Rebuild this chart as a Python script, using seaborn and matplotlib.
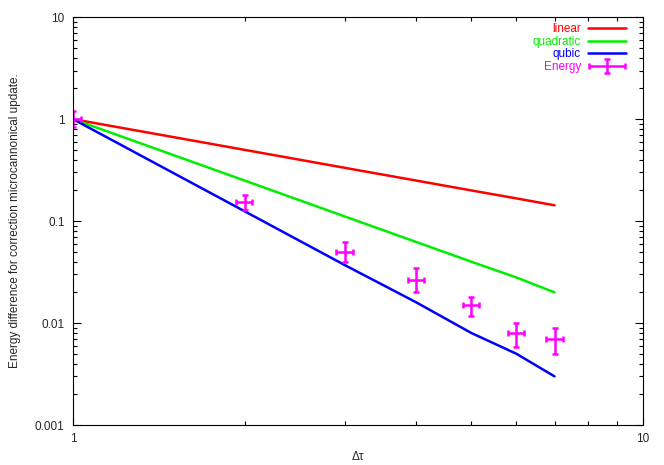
import numpy as np
import pandas as pd
import seaborn as sns
import matplotlib.pyplot as plt
import matplotlib.ticker as ticker
from matplotlib.container import ErrorbarContainer
from matplotlib.legend_handler import HandlerErrorbar

# valores
dtau = [1, 2, 3, 4, 5, 6, 7]
linear = [1.0, 0.5, 0.333, 0.25, 0.2, 0.167, 0.143]
quadratic = [1.0, 0.25, 0.111, 0.0625, 0.04, 0.028, 0.02]
qubic = [1.0, 0.125, 0.037, 0.016, 0.008, 0.005, 0.003]

energy = [1.0, 0.153, 0.050, 0.0264, 0.015, 0.0080, 0.0070]
energy_lo = [0.83, 0.128, 0.040, 0.020, 0.0117, 0.0058, 0.0050]
energy_hi = [1.2, 0.18, 0.062, 0.035, 0.018, 0.010, 0.0090]
dtau_err = [0.033, 0.065, 0.10, 0.13, 0.16, 0.20, 0.23]

CORES = {'linear': '#ff0000', 'quadratic': '#00ee00', 'qubic': '#0000ff'}
MAGENTA = '#ff00ff'

sns.set_style("ticks")
plt.rcParams['font.family'] = ['Liberation Sans', 'DejaVu Sans']

df = pd.DataFrame({
    'dtau': dtau * 3,
    'valor': linear + quadratic + qubic,
    'serie': ['linear'] * 7 + ['quadratic'] * 7 + ['qubic'] * 7,
})

fig = plt.figure(figsize=(6.64, 4.65), dpi=100)
ax = fig.add_axes([0.110, 0.086, 0.858, 0.877])

sns.lineplot(data=df, x='dtau', y='valor', hue='serie', palette=CORES,
             linewidth=1.8, ax=ax, legend=True)

yerr = [np.array(energy) - np.array(energy_lo), np.array(energy_hi) - np.array(energy)]
ax.errorbar(dtau, energy, yerr=yerr, xerr=dtau_err, fmt='none', ecolor=MAGENTA,
            elinewidth=1.8, capsize=2.5, capthick=1.8, label='Energy')

ax.set_xscale('log')
ax.set_yscale('log')
ax.set_xlim(1, 10)
ax.set_ylim(0.001, 10)

ax.xaxis.set_major_locator(ticker.FixedLocator([1, 10]))
ax.xaxis.set_major_formatter(ticker.FixedFormatter(['1', '10']))
ax.xaxis.set_minor_locator(ticker.LogLocator(base=10, subs=np.arange(2, 10)))
ax.xaxis.set_minor_formatter(ticker.NullFormatter())
ax.yaxis.set_major_locator(ticker.FixedLocator([0.001, 0.01, 0.1, 1, 10]))
ax.yaxis.set_major_formatter(ticker.FixedFormatter(['0.001', '0.01', '0.1', '1', '10']))
ax.yaxis.set_minor_locator(ticker.LogLocator(base=10, subs=np.arange(2, 10)))
ax.yaxis.set_minor_formatter(ticker.NullFormatter())

ax.tick_params(which='both', direction='in', top=True, right=True, labelsize=8.5,
               width=0.8, color='black')
ax.tick_params(which='major', length=6, pad=6)
ax.tick_params(which='minor', length=3)
for s in ax.spines.values():
    s.set_linewidth(0.8)
    s.set_color('black')

ax.set_xlabel('Δτ', fontsize=8.5, labelpad=4)
ax.set_ylabel('Energy difference for correction microcannonical update.', fontsize=8.5, labelpad=10)

handles, labels = ax.get_legend_handles_labels()
cores_leg = [CORES.get(l, MAGENTA) for l in labels]
leg = ax.legend(handles, labels, loc='upper right', bbox_to_anchor=(0.995, 1.02),
                frameon=False, markerfirst=False,
                labelcolor=cores_leg, fontsize=8.5, handlelength=3.2,
                labelspacing=0.05, borderaxespad=0.8, handletextpad=0.6,
                handler_map={ErrorbarContainer: HandlerErrorbar(xerr_size=1.5, yerr_size=0.6)})

plt.savefig('out.png', dpi=100)
